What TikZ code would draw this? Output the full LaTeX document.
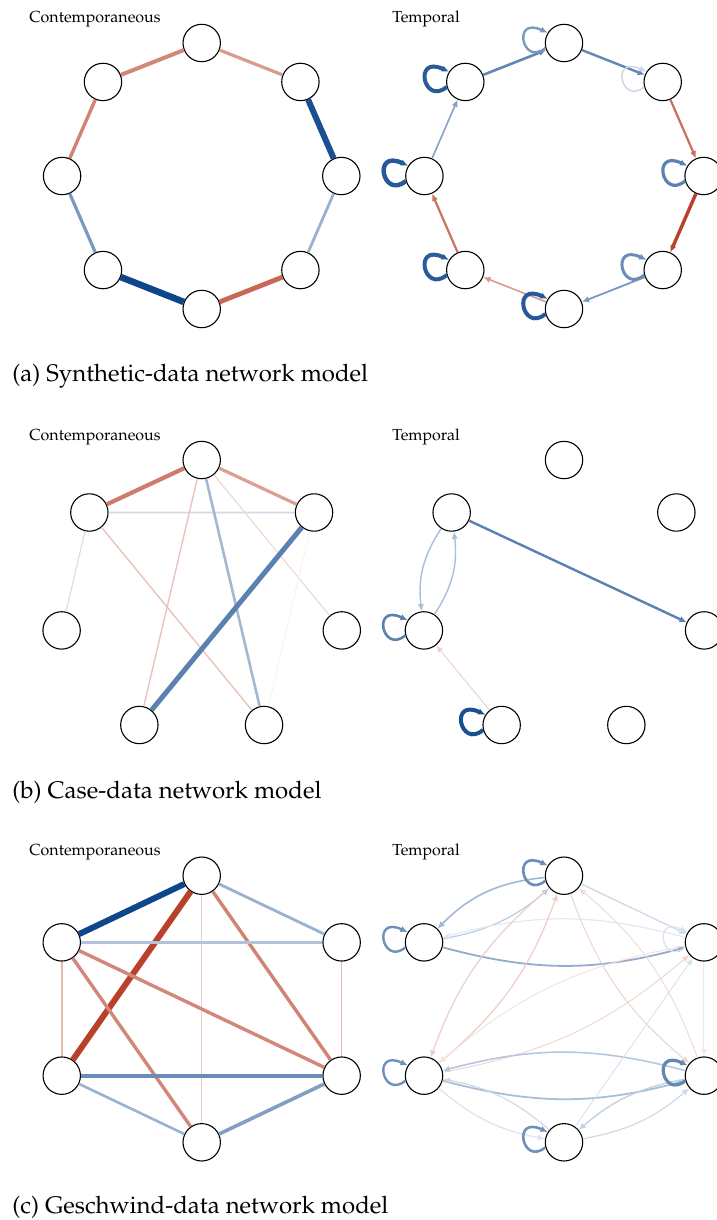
\documentclass[tikz,border=0pt]{standalone}
\usepackage[T1]{fontenc}
\usepackage{mathpazo}
\usetikzlibrary{arrows.meta}

\definecolor{posblue}{RGB}{14,70,140}
\definecolor{negred}{RGB}{180,55,30}

\tikzset{
  vnode/.style={circle, draw=black, line width=0.55pt, fill=white, minimum size=18.7pt, inner sep=0pt},
  pe/.style={draw=posblue!#1!white},
  ne/.style={draw=negred!#1!white},
  arr/.style={-{Latex[length=3.6pt,width=3.2pt]}},
  selfloop/.style={arr, out=220, in=155, out distance=15pt, in distance=20pt},
  paneltitle/.style={anchor=base west, inner sep=0pt, font=\fontsize{8}{10}\selectfont},
  subcap/.style={anchor=base west, inner sep=0pt, font=\fontsize{12}{14}\selectfont}
}

\begin{document}
\begin{tikzpicture}[x=0.5pt, y=0.5pt]
  \useasboundingbox (0,0) rectangle (717,-1220);

  % (a) synthetic data
  \node[paneltitle] (sctitle) at (29,-23) {Contemporaneous};
  \node[paneltitle] (sttitle) at (392,-23) {Temporal};
  \begin{scope}[shift={(201.7,-176)}]
    \foreach \k in {0,...,7}
      \node[vnode] (sc\k) at (90+45*\k:139.6 and 133) {};
  \end{scope}
  \begin{scope}[shift={(564,-176)}]
    \foreach \k in {0,...,7}
      \node[vnode] (st\k) at (90+45*\k:139.6 and 133) {};
  \end{scope}
  \draw[ne=60, line width=2pt] (sc0) -- (sc1);
  \draw[ne=50, line width=1.6pt] (sc0) -- (sc7);
  \draw[pe=95, line width=3pt] (sc7) -- (sc6);
  \draw[ne=62, line width=1.7pt] (sc1) -- (sc2);
  \draw[pe=55, line width=1.6pt] (sc2) -- (sc3);
  \draw[pe=42, line width=1.4pt] (sc6) -- (sc5);
  \draw[pe=100, line width=3.3pt] (sc3) -- (sc4);
  \draw[ne=75, line width=2.4pt] (sc4) -- (sc5);
  \draw[arr, pe=65, line width=1.3pt] (st1) -- (st0);
  \draw[arr, pe=65, line width=1.2pt] (st0) -- (st7);
  \draw[arr, ne=72, line width=1.1pt] (st7) -- (st6);
  \draw[arr, ne=95, line width=1.7pt] (st6) -- (st5);
  \draw[arr, pe=55, line width=0.9pt] (st5) -- (st4);
  \draw[arr, ne=50, line width=0.8pt] (st4) -- (st3);
  \draw[arr, ne=70, line width=1.1pt] (st3) -- (st2);
  \draw[arr, pe=50, line width=0.8pt] (st2) -- (st1);
  \draw[selfloop, pe=55, line width=1.2pt] (st0.195) to (st0.148);
  \draw[selfloop, pe=88, line width=2pt] (st1.195) to (st1.148);
  \draw[selfloop, pe=90, line width=2.2pt] (st2.195) to (st2.148);
  \draw[selfloop, pe=88, line width=2pt] (st3.195) to (st3.148);
  \draw[selfloop, pe=90, line width=2pt] (st4.195) to (st4.148);
  \draw[selfloop, pe=62, line width=1.5pt] (st5.195) to (st5.148);
  \draw[selfloop, pe=68, line width=1.6pt] (st6.195) to (st6.148);
  \draw[selfloop, pe=22, line width=0.7pt] (st7.195) to (st7.148);
  \node[subcap] (capa) at (12,-381.7) {(a) Synthetic-data network model};

  % (b) case data
  \node[paneltitle] (cctitle) at (29,-440) {Contemporaneous};
  \node[paneltitle] (cttitle) at (392,-440) {Temporal};
  \begin{scope}[shift={(201.7,-599.4)}]
    \foreach \k in {0,...,6}
      \node[vnode] (cc\k) at (90+360/7*\k:143.7 and 139.4) {};
  \end{scope}
  \begin{scope}[shift={(564,-599.4)}]
    \foreach \k in {0,...,6}
      \node[vnode] (ct\k) at (90+360/7*\k:143.7 and 139.4) {};
  \end{scope}
  \draw[ne=65, line width=2.1pt] (cc0) -- (cc1);
  \draw[ne=48, line width=1.6pt] (cc0) -- (cc6);
  \draw[pe=20, line width=0.9pt] (cc1) -- (cc6);
  \draw[pe=18, line width=0.6pt] (cc1) -- (cc2);
  \draw[ne=30, line width=0.7pt] (cc1) -- (cc4);
  \draw[ne=30, line width=0.7pt] (cc0) -- (cc3);
  \draw[pe=38, line width=1.3pt] (cc0) -- (cc4);
  \draw[ne=22, line width=0.5pt] (cc0) -- (cc5);
  \draw[pe=68, line width=2.5pt] (cc6) -- (cc3);
  \draw[ne=8, line width=0.4pt] (cc6) -- (cc4);
  \draw[arr, pe=68, line width=1.2pt] (ct1) -- (ct5);
  \draw[arr, pe=35, line width=0.7pt] (ct1) to[bend right=20] (ct2);
  \draw[arr, pe=35, line width=0.7pt] (ct2) to[bend right=20] (ct1);
  \draw[arr, ne=22, line width=0.5pt] (ct3) -- (ct2);
  \draw[selfloop, pe=68, line width=1.3pt] (ct2.195) to (ct2.148);
  \draw[selfloop, pe=95, line width=2pt] (ct3.195) to (ct3.148);
  \node[subcap] (capb) at (12,-798) {(b) Case-data network model};

  % (c) Geschwind data
  \node[paneltitle] (gctitle) at (29,-855.7) {Contemporaneous};
  \node[paneltitle] (gttitle) at (392,-855.7) {Temporal};
  \begin{scope}[shift={(201.7,-1009)}]
    \foreach \k in {0,...,5}
      \node[vnode] (gc\k) at (90+60*\k:161.6 and 133.3) {};
  \end{scope}
  \begin{scope}[shift={(564,-1009)}]
    \foreach \k in {0,...,5}
      \node[vnode] (gt\k) at (90+60*\k:161.6 and 133.3) {};
  \end{scope}
  \draw[pe=100, line width=3pt] (gc0) -- (gc1);
  \draw[pe=42, line width=1.4pt] (gc0) -- (gc5);
  \draw[ne=95, line width=3pt] (gc0) -- (gc2);
  \draw[ne=62, line width=1.7pt] (gc0) -- (gc4);
  \draw[ne=25, line width=0.6pt] (gc0) -- (gc3);
  \draw[pe=32, line width=1.2pt] (gc1) -- (gc5);
  \draw[ne=35, line width=0.8pt] (gc1) -- (gc2);
  \draw[ne=60, line width=1.7pt] (gc1) -- (gc4);
  \draw[ne=60, line width=1.7pt] (gc1) -- (gc3);
  \draw[ne=35, line width=0.8pt] (gc5) -- (gc4);
  \draw[pe=62, line width=2pt] (gc2) -- (gc4);
  \draw[pe=42, line width=1.3pt] (gc2) -- (gc3);
  \draw[pe=52, line width=1.8pt] (gc3) -- (gc4);
  \draw[arr, pe=38, line width=0.8pt] (gt0) to[bend right=20] (gt1);
  \draw[arr, pe=28, line width=0.6pt] (gt1) to[bend right=15] (gt0);
  \draw[arr, pe=12, line width=0.6pt] (gt5) to[bend right=15] (gt1);
  \draw[arr, pe=45, line width=0.9pt] (gt1) to[bend right=15] (gt5);
  \draw[arr, pe=22, line width=0.6pt] (gt0) -- (gt5);
  \draw[arr, ne=25, line width=0.6pt] (gt0) to[bend right=15] (gt2);
  \draw[arr, ne=25, line width=0.6pt] (gt2) to[bend right=15] (gt0);
  \draw[arr, ne=22, line width=0.5pt] (gt0) to[bend right=15] (gt4);
  \draw[arr, ne=18, line width=0.5pt] (gt4) to[bend right=15] (gt0);
  \draw[arr, ne=15, line width=0.5pt] (gt5) to[bend right=15] (gt2);
  \draw[arr, ne=20, line width=0.5pt] (gt2) to[bend right=15] (gt5);
  \draw[arr, ne=12, line width=0.5pt] (gt5) -- (gt4);
  \draw[arr, pe=30, line width=0.8pt] (gt4) to[bend right=15] (gt2);
  \draw[arr, pe=35, line width=0.9pt] (gt2) to[bend right=15] (gt4);
  \draw[arr, pe=15, line width=0.6pt] (gt2) to[bend right=15] (gt3);
  \draw[arr, pe=20, line width=0.6pt] (gt3) to[bend right=15] (gt2);
  \draw[arr, pe=20, line width=0.6pt] (gt3) to[bend right=15] (gt4);
  \draw[arr, pe=25, line width=0.7pt] (gt4) to[bend right=15] (gt3);
  \draw[arr, pe=15, line width=0.5pt] (gt3) -- (gt5);
  \draw[selfloop, pe=62, line width=1.3pt] (gt0.195) to (gt0.148);
  \draw[selfloop, pe=60, line width=1.2pt] (gt1.195) to (gt1.148);
  \draw[selfloop, pe=60, line width=1.2pt] (gt2.195) to (gt2.148);
  \draw[selfloop, pe=60, line width=1.3pt] (gt3.195) to (gt3.148);
  \draw[selfloop, pe=65, line width=1.6pt] (gt4.195) to (gt4.148);
  \draw[selfloop, pe=15, line width=0.6pt] (gt5.195) to (gt5.148);
  \node[subcap] (capc) at (12,-1213.5) {(c) Geschwind-data network model};
\end{tikzpicture}
\end{document}
